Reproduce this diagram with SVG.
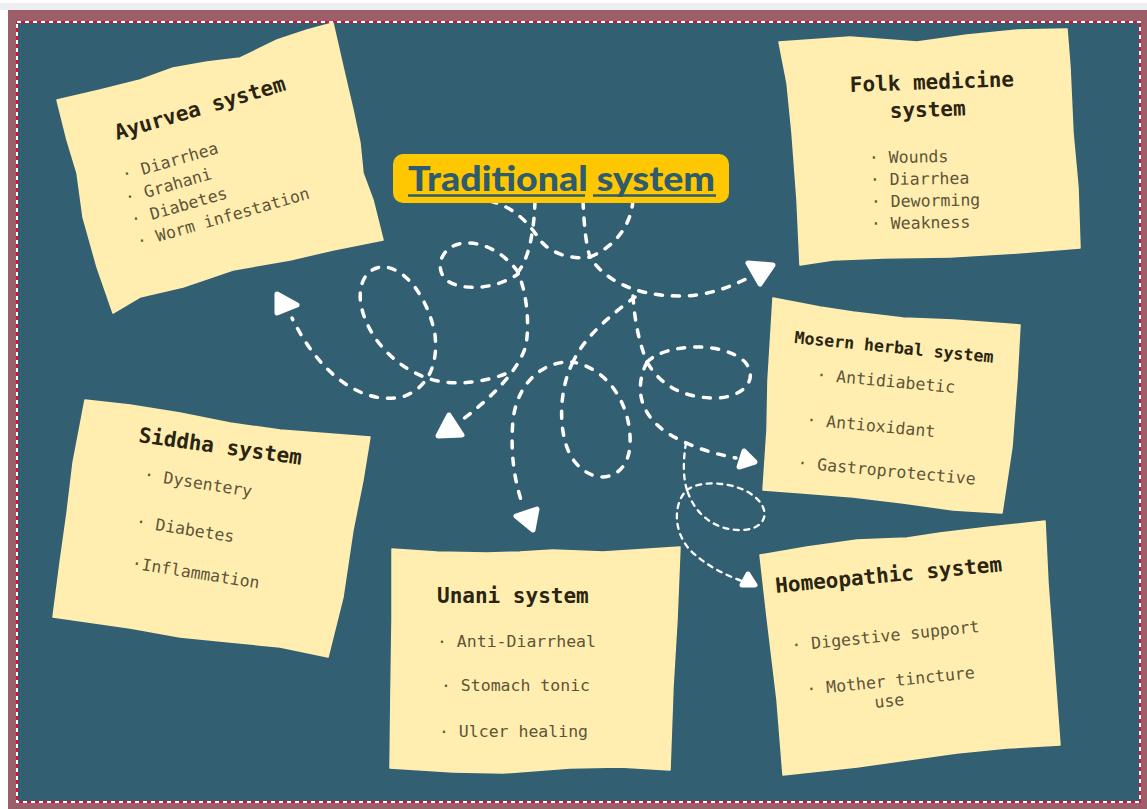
<svg xmlns="http://www.w3.org/2000/svg" width="1147" height="809" viewBox="0 0 1147 809">
  <defs>
    <style>
      .note{fill:#ffeeb0;stroke:#ffeeb0;stroke-width:1.5;stroke-linejoin:round}
      .hd{font-family:"DejaVu Sans Mono","Liberation Mono",monospace;font-weight:bold;font-size:21px;fill:#2a2410}
      .it{font-family:"DejaVu Sans Mono","Liberation Mono",monospace;font-size:16.5px;fill:#5e5437}
      .dash{fill:none;stroke:#ffffff;stroke-width:3.5;stroke-dasharray:7 10;stroke-linecap:round;stroke-linejoin:round}
      .thin{fill:none;stroke:#ffffff;stroke-width:2.3;stroke-dasharray:5 5.5;stroke-linecap:round}
      .head{fill:#ffffff;stroke:#ffffff;stroke-width:5;stroke-linejoin:round}
    </style>
  </defs>

  <!-- page and framed board -->
  <rect width="1147" height="809" fill="#ffffff"/>
  <rect x="0" y="3" width="1147" height="7" fill="#eceef1"/>
  <rect x="8" y="10" width="1139" height="799" fill="#9c5f6a"/>
  <rect x="17" y="22" width="1123" height="780" fill="#335f72"/>
  <rect x="17" y="22" width="1123" height="780" fill="none" stroke="#e0112b" stroke-width="2"/>
  <rect x="17" y="22" width="1123" height="780" fill="none" stroke="#ffffff" stroke-width="2" stroke-dasharray="4 4"/>

  <!-- connectors -->
  <g id="connectors">
    <path class="dash" d="M633,200 C631,228 612,248 590,257 C603,278 632,296 680,296 C708,296 730,287 748,278"/>
    <path class="dash" d="M490,201 C515,207 530,225 540,240 C550,253 570,260 590,257"/>
    <path class="dash" d="M583,201 C584,225 586,245 590,257"/>
    <path class="dash" d="M535,201 C534,232 529,258 518,272 C526,292 530,320 526,345 C520,368 495,395 462,420"/>
    <path class="dash" d="M518,272 C505,254 485,242 465,243 C445,244 435,262 443,276 C452,291 492,292 518,274"/>
    <path class="dash" d="M505,374 C482,383 452,386 430,379 C398,369 368,340 361,305 C357,282 368,266 385,267 C410,270 430,305 435,335 C438,362 430,386 405,396 C372,406 325,385 292,318"/>
    <path class="dash" d="M635,297 C615,312 585,335 573,362 C548,360 518,378 513,420 C510,455 515,482 522,503"/>
    <path class="dash" d="M573,362 C558,390 557,440 575,462 C595,487 628,480 630,445 C632,410 612,370 573,362"/>
    <path class="dash" d="M633,296 C635,325 640,345 647,362 C632,392 642,422 680,440 C700,450 720,455 736,458"/>
    <path class="dash" d="M647,362 C665,344 722,340 745,362 C760,380 742,399 712,398 C682,397 660,385 647,362"/>
    <path class="thin" d="M686,443 C683,460 683,478 687,490 C674,502 672,530 690,550 C705,565 725,575 742,581"/>
    <path class="thin" d="M687,490 C702,478 748,482 762,505 C770,520 758,531 738,530 C712,529 694,512 687,490"/>

    <polygon class="head" points="277,294 297,305 277,313"/>
    <polygon class="head" points="449,415 462,435 438,436"/>
    <polygon class="head" points="748,263 773,265 760,284"/>
    <polygon class="head" points="516,516 537,509 533,530"/>
    <polygon class="head" points="744,451 755,462 739,467"/>
    <polygon class="head" points="748,574 755,585 742,585"/>
  </g>

  <!-- central title -->
  <g id="title">
    <rect x="393" y="154" width="336" height="49" rx="10" fill="#ffc700"/>
    <text x="408" y="191" font-family="Lato,'Open Sans',sans-serif" font-weight="900" font-size="34" fill="#2f5b6f" textLength="307" lengthAdjust="spacingAndGlyphs">Traditional system</text>
    <line x1="408" y1="195.5" x2="585" y2="195.5" stroke="#2f5b6f" stroke-width="2.5"/>
    <line x1="593" y1="195.5" x2="716" y2="195.5" stroke="#2f5b6f" stroke-width="2.5"/>
  </g>

  <!-- Ayurveda note -->
  <g id="ayurvea">
    <polygon class="note" points="57,100 100,90 140,80 173,68 207,62 240,58 277,40 307,30 333,23 343,67 353,110 360,143 363,173 373,200 383,240 333,250 290,260 233,270 183,287 140,297 113,313 97,267 83,217 77,173 67,140"/>
    <text class="hd" x="117" y="140" transform="rotate(-16.4 117 140)">Ayurvea system</text>
    <text class="it" x="123" y="175" transform="rotate(-16 143 175)">· Diarrhea</text>
    <text class="it" x="126" y="198" transform="rotate(-16 146 198)">· Grahani</text>
    <text class="it" x="132" y="220" transform="rotate(-16 152 220)">· Diabetes</text>
    <text class="it" x="138" y="242" transform="rotate(-16 158 242)">· Worm infestation</text>
  </g>

  <!-- Folk medicine note -->
  <g id="folk">
    <polygon class="note" points="779,42 850,37 917,42 967,35 1017,30 1067,29 1070,67 1073,133 1078,187 1080,248 1017,253 950,257 883,258 833,260 800,265 797,200 792,133 787,83"/>
    <text class="hd" x="850" y="92" transform="rotate(-2 850 92)">Folk medicine</text>
    <text class="hd" x="890" y="118" transform="rotate(-2 890 118)">system</text>
    <text class="it" x="869" y="163" transform="rotate(-1 889 163)">· Wounds</text>
    <text class="it" x="870" y="185" transform="rotate(-1 890 185)">· Diarrhea</text>
    <text class="it" x="871" y="207" transform="rotate(-1 891 207)">· Deworming</text>
    <text class="it" x="871" y="229" transform="rotate(-1 891 229)">· Weakness</text>
  </g>

  <!-- Modern herbal note -->
  <g id="mosern">
    <polygon class="note" points="773,298 820,307 853,312 903,318 953,320 1020,325 1017,380 1012,447 1002,513 953,510 903,503 853,497 803,493 763,490 767,430 768,380"/>
    <text class="hd" x="794" y="343" font-size="16.6" style="font-size:16.6px" transform="rotate(5.7 794 343)">Mosern herbal system</text>
    <text class="it" x="816" y="382" transform="rotate(5.3 836 382)">· Antidiabetic</text>
    <text class="it" x="806" y="427" transform="rotate(5.3 826 427)">· Antioxidant</text>
    <text class="it" x="797" y="470" transform="rotate(5.3 817 470)">· Gastroprotective</text>
  </g>

  <!-- Siddha note -->
  <g id="siddha">
    <polygon class="note" points="85,400 130,405 180,413 230,423 280,430 370,437 363,480 353,530 343,597 328,657 280,647 230,642 180,637 130,628 53,617 60,563 67,513 73,463"/>
    <text class="hd" x="138" y="442" transform="rotate(8 138 442)">Siddha system</text>
    <text class="it" x="143" y="483" transform="rotate(9 163 483)">· Dysentery</text>
    <text class="it" x="135" y="530" transform="rotate(9 155 530)">· Diabetes</text>
    <text class="it" x="131" y="570" transform="rotate(9 141 570)">·Inflammation</text>
  </g>

  <!-- Unani note -->
  <g id="unani">
    <polygon class="note" points="392,549 437,552 487,553 520,552 553,550 603,552 680,547 677,620 673,687 670,770 620,767 570,768 503,773 453,772 390,768 391,687 392,620"/>
    <text class="hd" x="437" y="603">Unani system</text>
    <text class="it" x="437" y="647">· Anti-Diarrheal</text>
    <text class="it" x="441" y="691">· Stomach tonic</text>
    <text class="it" x="439" y="737">· Ulcer healing</text>
  </g>

  <!-- Homeopathic note -->
  <g id="homeopathic">
    <polygon class="note" points="760,555 807,547 857,540 907,538 940,533 990,527 1045,521 1048,583 1053,650 1060,745 1007,748 957,753 907,760 857,767 783,775 777,700 767,617"/>
    <text class="hd" x="776" y="593" transform="rotate(-5.5 776 593)">Homeopathic system</text>
    <text class="it" x="792" y="649" transform="rotate(-5.8 812 649)">· Digestive support</text>
    <text class="it" x="807" y="693" transform="rotate(-5.8 827 693)">· Mother tincture</text>
    <text class="it" x="875" y="708" transform="rotate(-5.8 875 708)">use</text>
  </g>
</svg>
